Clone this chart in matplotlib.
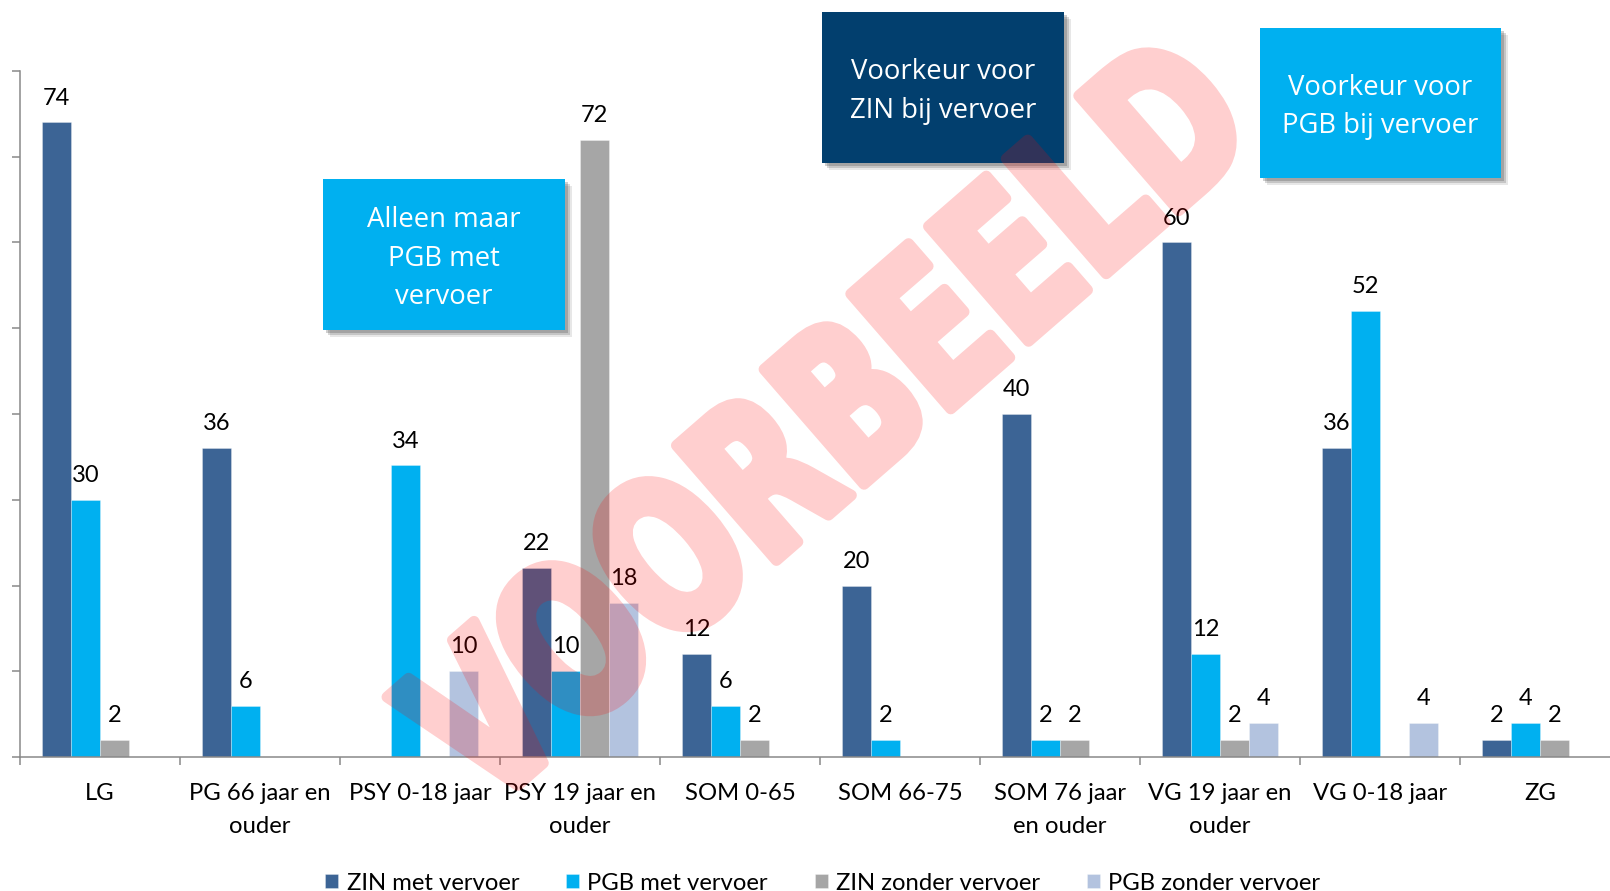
import numpy as np
import matplotlib
matplotlib.use("Agg")
import matplotlib.pyplot as plt
from matplotlib.patches import Rectangle, PathPatch
from matplotlib.textpath import TextPath
from matplotlib.font_manager import FontProperties
from matplotlib.transforms import Affine2D

categories = ["LG", "PG 66 jaar en\nouder", "PSY 0-18 jaar", "PSY 19 jaar en\nouder", "SOM 0-65",
              "SOM 66-75", "SOM 76 jaar\nen ouder", "VG 19 jaar en\nouder", "VG 0-18 jaar", "ZG"]
series_names = ["ZIN met vervoer", "PGB met vervoer", "ZIN zonder vervoer", "PGB zonder vervoer"]
nan = np.nan
zin_met = [74, 36, nan, 22, 12, 20, 40, 60, 36, 2]
pgb_met = [30, 6, 34, 10, 6, 2, 2, 12, 52, 4]
zin_zonder = [2, nan, nan, 72, 2, nan, 2, 2, nan, 2]
pgb_zonder = [nan, nan, 10, 18, nan, nan, nan, 4, 4, nan]
colors = ["#3C6495", "#00B0F0", "#A6A6A6", "#B3C3DF"]

box_texts = ["Alleen maar\nPGB met\nvervoer", "Voorkeur voor\nZIN bij vervoer", "Voorkeur voor\nPGB bij vervoer"]
box_colors = ["#00B0F0", "#023F6E", "#00B0F0"]

W, H = 1610, 891
fig = plt.figure(figsize=(W / 100, H / 100), dpi=100)

# main axes in pixel terms: x 20..1620, y 71..757 (from top)
ax = fig.add_axes([20 / W, (H - 757) / H, 1600 / W, (757 - 71) / H])
x = np.arange(len(categories))
bw = 0.181
for j, (vals, col) in enumerate(zip([zin_met, pgb_met, zin_zonder, pgb_zonder], colors)):
    vals = np.array(vals, dtype=float)
    bars = ax.bar(x + (j - 1.5) * bw, np.nan_to_num(vals), bw, color=col, label=series_names[j],
                  edgecolor=(1, 1, 1, 0.35), linewidth=0.6, zorder=2)
    labels = ["" if np.isnan(v) else f"{int(v)}" for v in vals]
    ax.bar_label(bars, labels=labels, padding=10, fontsize=17, family="Lato")

ax.set_xlim(-0.5, len(categories) - 0.5)
ax.set_ylim(0, 80)
ax.set_yticks(np.arange(0, 81, 10))
ax.set_yticklabels([])
ax.set_xticks(x)
ax.set_xticklabels(categories, fontsize=17.2, family="Lato", linespacing=1.68)
ax.set_xticks(np.arange(-0.5, len(categories)), minor=True)
ax.tick_params(axis="x", which="major", length=0, pad=19)
ax.tick_params(axis="x", which="minor", length=6, width=1.1, color="#898989", direction="out")
ax.tick_params(axis="y", length=6, width=1.1, color="#898989", direction="out")
for s in ["top", "right"]:
    ax.spines[s].set_visible(False)
for s in ["left", "bottom"]:
    ax.spines[s].set_color("#898989")
    ax.spines[s].set_linewidth(1.1)

# the reference legend sits on the lower edge and is partly clipped
leg = fig.legend(loc="center", bbox_to_anchor=(0.511, 8 / H), ncol=4, frameon=False,
                 prop={"family": "Lato", "size": 17.2}, handlelength=0.55, handleheight=0.55,
                 handletextpad=0.35, columnspacing=1.95)

# overlay for boxes and watermark
ov = fig.add_axes([0, 0, 1, 1], zorder=5)
ov.set_xlim(0, W)
ov.set_ylim(H, 0)
ov.axis("off")
ov.patch.set_visible(False)

boxes = [(323, 179, 565, 330), (822, 12, 1064, 163), (1260, 28, 1501, 178)]
for (x0, y0, x1, y1), txt, col in zip(boxes, box_texts, box_colors):
    for off, a in [(7, 0.12), (5, 0.2), (3, 0.25)]:
        ov.add_patch(Rectangle((x0 + off, y0 + off), x1 - x0, y1 - y0, color="#404040", alpha=a, lw=0))
    ov.add_patch(Rectangle((x0, y0), x1 - x0, y1 - y0, color=col, lw=0))
    ov.text((x0 + x1) / 2, (y0 + y1) / 2 + 4, txt, color="white", ha="center", va="center",
            fontsize=19.8, family="Open Sans", linespacing=1.48)


# watermark: solid red drawn, then made see-through as one layer
def fade(img, dpi):
    img = img.copy()
    img[..., 3] *= 0.19
    return img, 0, 0


tp = TextPath((0, 0), "VOORBEELD", size=100, prop=FontProperties(family="DejaVu Sans", weight="bold"))
ext = tp.get_extents()
sx = 1020 / ext.width
sy = 158 / ext.height
tr = (Affine2D().translate(-ext.x0 - ext.width / 2, -ext.y0 - ext.height / 2)
      .scale(sx, -sy).rotate_deg(-41).translate(822, 420))
wm = PathPatch(tr.transform_path(tp), fc="red", ec="red", lw=8, joinstyle="round")
wm.set_agg_filter(fade)
ov.add_patch(wm)

fig.savefig("out.png", dpi=100)
